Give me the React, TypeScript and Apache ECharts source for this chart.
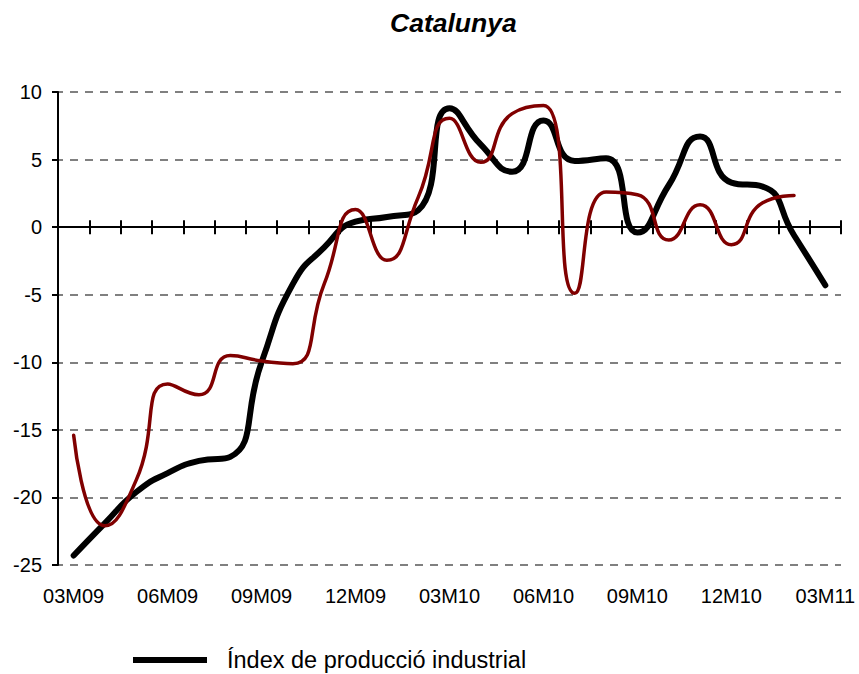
import React, { useEffect, useRef } from 'react';
import * as echarts from 'echarts';

const categories = [
  '03M09', '04M09', '05M09', '06M09', '07M09', '08M09', '09M09', '10M09', '11M09', '12M09',
  '01M10', '02M10', '03M10', '04M10', '05M10', '06M10', '07M10', '08M10', '09M10', '10M10',
  '11M10', '12M10', '01M11', '02M11', '03M11',
];

const industrialIndex = [
  -24.3, -21.9, -19.6, -18.2, -17.3, -17.0, -10.0, -4.2, -1.5, 0.4,
  0.75, 1.25, 8.8, 6.1, 4.1, 7.9, 4.9, 5.1, -0.4, 3.1,
  6.7, 3.3, 3.0, -0.6, -4.3,
];

const secondSeries = [
  -15.4, -22.1, -18.7, -11.6, -12.4, -9.5, -9.9, -10.1, -4.2, 1.3,
  -2.45, 2.2, 8.05, 4.8, 8.4, 9.0, -4.9, 2.6, 2.4, -0.95,
  1.65, -1.3, 1.8, 2.35,
];

const yTicks = { min: -25, max: 10, interval: 5 };
const legendName = 'Índex de producció industrial';
const titleText = 'Catalunya';

const FONT = "'Liberation Sans', Arial, sans-serif";

export default function App() {
  const ref = useRef<HTMLDivElement>(null);
  useEffect(() => {
    if (!ref.current) return;
    const chart = echarts.init(ref.current, undefined, { renderer: 'svg' });
    const tickAxis = (position: 'top' | 'bottom', yIndex: number) => ({
      type: 'category',
      data: categories,
      position,
      boundaryGap: true,
      axisLine: { show: true, onZero: true, onZeroAxisIndex: yIndex, lineStyle: { color: '#000', width: 2 } },
      axisTick: { show: true, interval: 0, length: 7, inside: false, lineStyle: { color: '#000', width: 2 } },
      axisLabel: { show: false },
      splitLine: { show: false },
    });
    chart.setOption({
      animation: false,
      backgroundColor: '#fff',
      title: {
        text: titleText,
        left: 390,
        top: 9,
        padding: 0,
        textStyle: { fontFamily: FONT, fontSize: 26.5, fontWeight: 'bold', fontStyle: 'italic', color: '#000' },
      },
      grid: { left: 58, right: 18, top: 92, bottom: 109, containLabel: false },
      legend: {
        data: [legendName],
        left: 133,
        top: 648,
        padding: 0,
        icon: 'rect',
        itemWidth: 74,
        itemHeight: 6,
        textStyle: { fontFamily: FONT, fontSize: 23.5, color: '#000', padding: [0, 0, 0, 15] },
      },
      xAxis: [
        {
          type: 'category',
          data: categories,
          position: 'bottom',
          boundaryGap: true,
          axisLine: { show: false, onZero: false },
          axisTick: { show: false },
          axisLabel: { interval: 2, fontFamily: FONT, fontSize: 20, color: '#000', margin: 21 },
          splitLine: { show: false },
        },
        tickAxis('bottom', 0),
        tickAxis('top', 1),
      ],
      yAxis: [
        {
          type: 'value',
          min: yTicks.min,
          max: yTicks.max,
          interval: yTicks.interval,
          position: 'left',
          axisLine: { show: true, lineStyle: { color: '#000', width: 2 } },
          axisTick: { show: true, length: 6, lineStyle: { color: '#000', width: 2 } },
          axisLabel: { fontFamily: FONT, fontSize: 20, color: '#000', margin: 16 },
          splitLine: { show: true, lineStyle: { color: '#808080', width: 2, type: [8, 7], dashOffset: 3 } },
        },
        {
          type: 'value',
          min: yTicks.min,
          max: yTicks.max,
          interval: yTicks.interval,
          position: 'right',
          show: false,
          axisLine: { show: false },
          axisTick: { show: false },
          axisLabel: { show: false },
          splitLine: { show: false },
        },
      ],
      series: [
        {
          name: legendName,
          type: 'line',
          data: industrialIndex,
          smooth: 0.55,
          symbol: 'none',
          xAxisIndex: 0,
          yAxisIndex: 0,
          lineStyle: { color: '#000', width: 6, cap: 'round', join: 'round' },
          itemStyle: { color: '#000' },
          z: 3,
        },
        {
          name: 'Sèrie 2',
          type: 'line',
          data: secondSeries,
          smooth: 0.55,
          symbol: 'none',
          xAxisIndex: 0,
          yAxisIndex: 0,
          lineStyle: { color: '#800000', width: 3.5, cap: 'round', join: 'round' },
          itemStyle: { color: '#800000' },
          z: 4,
        },
      ],
    });
    return () => chart.dispose();
  }, []);
  return <div ref={ref} style={{ position: 'fixed', left: 0, top: 0, width: 859, height: 674 }} />;
}
